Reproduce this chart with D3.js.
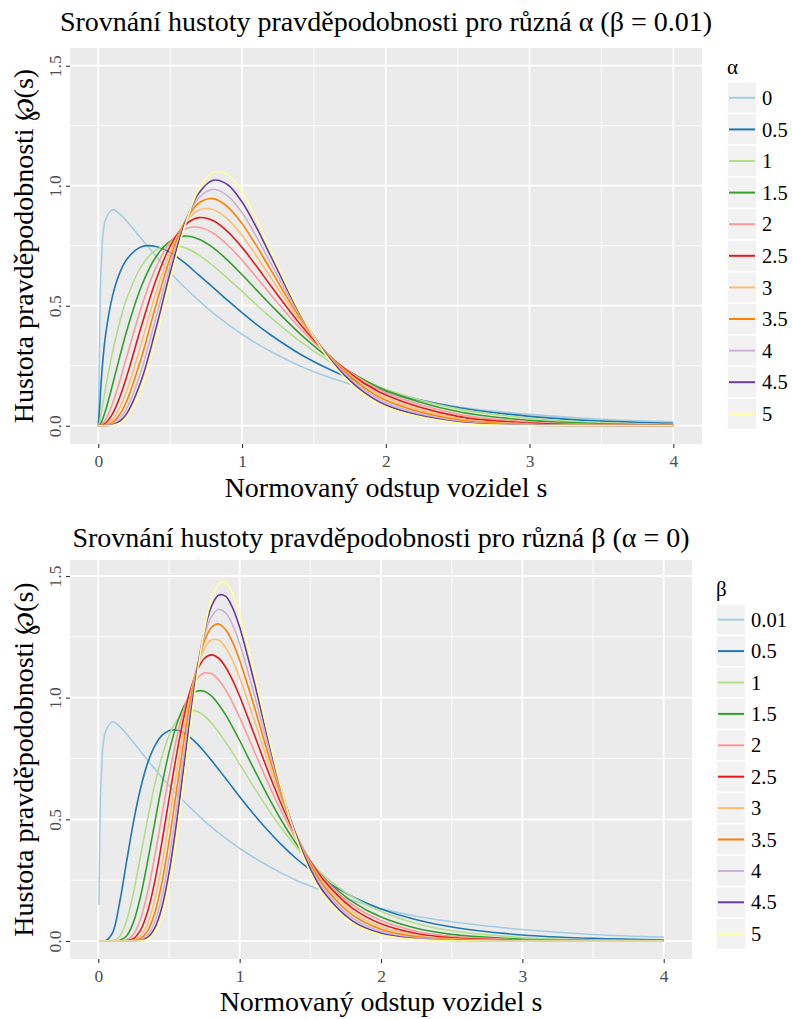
<!DOCTYPE html>
<html>
<head>
<meta charset="utf-8">
<script src="https://cdn.jsdelivr.net/npm/d3@7"></script>
<style>
  body { margin: 0; background: #ffffff; }
</style>
</head>
<body>
<script>
// s grid for the alpha panel (beta = 0.01)
const sAlpha = [0, 0.01, 0.02, 0.05, 0.1, 0.15, 0.2, 0.3, 0.4, 0.5, 0.6, 0.7, 0.8, 0.9, 1.0,
  1.1, 1.2, 1.4, 1.6, 1.8, 2.0, 2.5, 3.0, 3.5, 4.0];

const alphaLabels = ["0", "0.5", "1", "1.5", "2", "2.5", "3", "3.5", "4", "4.5", "5"];

const pA0 = [0, 0.402, 0.656, 0.858, 0.900, 0.882, 0.851, 0.779, 0.707, 0.639, 0.577, 0.521, 0.469, 0.423, 0.381, 0.343, 0.309, 0.250, 0.203, 0.165, 0.133, 0.079, 0.047, 0.027, 0.016];
const pA05 = [0, 0.080, 0.184, 0.375, 0.543, 0.638, 0.695, 0.746, 0.747, 0.722, 0.679, 0.627, 0.575, 0.522, 0.471, 0.422, 0.378, 0.300, 0.237, 0.185, 0.143, 0.076, 0.039, 0.019, 0.010];
const pA1 = [0, 0.0151, 0.0487, 0.155, 0.309, 0.434, 0.533, 0.665, 0.732, 0.753, 0.742, 0.711, 0.666, 0.614, 0.560, 0.504, 0.451, 0.353, 0.271, 0.204, 0.152, 0.070, 0.031, 0.0133, 0.0056];
const pA15 = [0, 0.0028, 0.0126, 0.0626, 0.1726, 0.289, 0.400, 0.581, 0.703, 0.769, 0.790, 0.777, 0.741, 0.689, 0.629, 0.566, 0.503, 0.385, 0.285, 0.207, 0.147, 0.0589, 0.0222, 0.008, 0.0028];
const pA2 = [0, 0.0005, 0.0032, 0.0247, 0.0938, 0.1877, 0.292, 0.495, 0.658, 0.765, 0.819, 0.827, 0.802, 0.753, 0.690, 0.619, 0.546, 0.408, 0.293, 0.204, 0.138, 0.0482, 0.0155, 0.0047, 0.0014];
const pA25 = [0, 0, 0.0008, 0.0095, 0.0501, 0.1199, 0.210, 0.415, 0.605, 0.748, 0.835, 0.867, 0.854, 0.809, 0.743, 0.665, 0.583, 0.426, 0.296, 0.197, 0.1276, 0.0388, 0.0106, 0.0027, 0.0007];
const pA3 = [0, 0, 0.0001, 0.0037, 0.0265, 0.0758, 0.1496, 0.344, 0.551, 0.725, 0.843, 0.899, 0.901, 0.861, 0.793, 0.708, 0.617, 0.441, 0.296, 0.189, 0.1168, 0.0309, 0.0072, 0.0016, 0.0003];
const pA35 = [0, 0, 0, 0.0014, 0.014, 0.0477, 0.106, 0.284, 0.500, 0.699, 0.847, 0.928, 0.946, 0.912, 0.842, 0.750, 0.649, 0.453, 0.294, 0.181, 0.1063, 0.0245, 0.0049, 0.0009, 0.0001];
const pA4 = [0, 0, 0, 0.0005, 0.0073, 0.0297, 0.0744, 0.232, 0.449, 0.668, 0.843, 0.950, 0.985, 0.958, 0.887, 0.788, 0.677, 0.462, 0.290, 0.171, 0.096, 0.0193, 0.0033, 0.0005, 0.0001];
const pA45 = [0, 0, 0, 0.0002, 0.0038, 0.0185, 0.0522, 0.190, 0.403, 0.638, 0.839, 0.970, 1.023, 1.004, 0.932, 0.826, 0.706, 0.471, 0.286, 0.162, 0.0866, 0.0151, 0.0022, 0.0003, 0];
const pA5 = [0, 0, 0, 0.0001, 0.002, 0.0115, 0.0364, 0.154, 0.359, 0.605, 0.829, 0.985, 1.056, 1.046, 0.973, 0.861, 0.730, 0.476, 0.280, 0.152, 0.0776, 0.0118, 0.0015, 0.0002, 0];

// s grid for the beta panel (alpha = 0)
const sBeta = [0.005, 0.01, 0.02, 0.05, 0.1, 0.15, 0.2, 0.25, 0.3, 0.35, 0.4, 0.45, 0.5, 0.55, 0.6,
  0.65, 0.7, 0.75, 0.8, 0.85, 0.9, 0.95, 1.0, 1.1, 1.2, 1.3, 1.4, 1.5, 1.6, 1.8, 2.0, 2.25, 2.5, 3.0, 3.5, 4.0];

const betaLabels = ["0.01", "0.5", "1", "1.5", "2", "2.5", "3", "3.5", "4", "4.5", "5"];

const pB001 = [0.149, 0.402, 0.656, 0.858, 0.900, 0.882, 0.851, 0.815, 0.779, 0.742, 0.707, 0.672, 0.639, 0.607, 0.577, 0.548, 0.521, 0.494, 0.469, 0.445, 0.423, 0.401, 0.381, 0.343, 0.309, 0.278, 0.250, 0.226, 0.203, 0.165, 0.133, 0.102, 0.079, 0.047, 0.027, 0.016];
const pB05 = [0, 0, 0, 0.0002, 0.032, 0.155, 0.326, 0.493, 0.630, 0.733, 0.802, 0.845, 0.864, 0.867, 0.857, 0.837, 0.810, 0.778, 0.743, 0.706, 0.669, 0.631, 0.593, 0.521, 0.454, 0.393, 0.339, 0.292, 0.250, 0.182, 0.132, 0.0875, 0.0577, 0.0248, 0.0106, 0.0045];
const pB1 = [0, 0, 0, 0, 0.0007, 0.0177, 0.0835, 0.2025, 0.352, 0.505, 0.643, 0.757, 0.843, 0.901, 0.935, 0.948, 0.943, 0.925, 0.896, 0.860, 0.818, 0.774, 0.727, 0.633, 0.543, 0.460, 0.386, 0.322, 0.267, 0.181, 0.121, 0.0719, 0.0423, 0.0144, 0.0048, 0.0016];
const pB15 = [0, 0, 0, 0, 0, 0.0019, 0.0204, 0.0792, 0.186, 0.330, 0.488, 0.641, 0.775, 0.882, 0.958, 1.006, 1.027, 1.026, 1.007, 0.973, 0.930, 0.879, 0.824, 0.708, 0.595, 0.491, 0.400, 0.322, 0.257, 0.161, 0.0982, 0.052, 0.0271, 0.0071, 0.0018, 0.0004];
const pB2 = [0, 0, 0, 0, 0, 0.0002, 0.0047, 0.0289, 0.0928, 0.203, 0.350, 0.515, 0.678, 0.823, 0.941, 1.026, 1.079, 1.101, 1.098, 1.074, 1.033, 0.980, 0.919, 0.785, 0.651, 0.527, 0.419, 0.328, 0.254, 0.148, 0.0842, 0.0403, 0.0189, 0.004, 0.0008, 0.0002];
const pB25 = [0, 0, 0, 0, 0, 0, 0.001, 0.0104, 0.0454, 0.123, 0.246, 0.406, 0.582, 0.754, 0.906, 1.027, 1.112, 1.161, 1.176, 1.163, 1.126, 1.072, 1.006, 0.854, 0.699, 0.555, 0.431, 0.328, 0.246, 0.134, 0.0706, 0.0306, 0.0129, 0.0022, 0.0003, 0];
const pB3 = [0, 0, 0, 0, 0, 0, 0.0001, 0.0037, 0.0218, 0.0728, 0.170, 0.314, 0.491, 0.679, 0.858, 1.010, 1.126, 1.202, 1.237, 1.237, 1.206, 1.153, 1.082, 0.914, 0.737, 0.575, 0.436, 0.323, 0.235, 0.120, 0.0585, 0.0229, 0.0087, 0.0012, 0.0001, 0];
const pB35 = [0, 0, 0, 0, 0, 0, 0, 0.0013, 0.0103, 0.0426, 0.116, 0.240, 0.409, 0.604, 0.802, 0.982, 1.128, 1.231, 1.288, 1.303, 1.280, 1.228, 1.154, 0.970, 0.772, 0.591, 0.438, 0.316, 0.223, 0.106, 0.0482, 0.0171, 0.0058, 0.0006, 0, 0];
const pB4 = [0, 0, 0, 0, 0, 0, 0, 0.0003, 0.0049, 0.0248, 0.0789, 0.183, 0.338, 0.534, 0.746, 0.949, 1.123, 1.252, 1.332, 1.362, 1.349, 1.299, 1.222, 1.020, 0.803, 0.602, 0.436, 0.306, 0.210, 0.0936, 0.0394, 0.0127, 0.0039, 0.0003, 0, 0];
const pB45 = [0, 0, 0, 0, 0, 0, 0, 0.0001, 0.0023, 0.0144, 0.0535, 0.139, 0.280, 0.471, 0.692, 0.915, 1.115, 1.271, 1.374, 1.421, 1.417, 1.369, 1.289, 1.071, 0.831, 0.612, 0.432, 0.296, 0.197, 0.0819, 0.032, 0.0093, 0.0026, 0.0001, 0, 0];
const pB5 = [0, 0, 0, 0, 0, 0, 0, 0, 0.0011, 0.0083, 0.0359, 0.104, 0.229, 0.411, 0.635, 0.873, 1.096, 1.277, 1.403, 1.467, 1.473, 1.429, 1.346, 1.112, 0.851, 0.615, 0.424, 0.282, 0.182, 0.0709, 0.0257, 0.0068, 0.0017, 0, 0, 0];

const xTicks = [0, 1, 2, 3, 4];
const xMinor = [0.5, 1.5, 2.5, 3.5];
const yTicks = [0, 0.5, 1.0, 1.5];
const yMinor = [0.25, 0.75, 1.25];

const colors = d3.schemePaired.slice(0, 11);
const serif = '"Liberation Serif"';

const width = 792;
const height = 1019;

const svg = d3
  .select("body")
  .append("svg")
  .attr("width", width)
  .attr("height", height)
  .style("background", "#ffffff")
  .style("font-family", serif);

function drawPanel(p) {
  const g = svg.append("g");

  const x = d3.scaleLinear().domain([0, 4]).range([p.x0, p.x4]);
  const y = d3.scaleLinear().domain([0, 1.5]).range([p.y0, p.y15]);

  g.append("rect")
    .attr("x", p.left)
    .attr("y", p.top)
    .attr("width", p.right - p.left)
    .attr("height", p.bottom - p.top)
    .attr("fill", "#EBEBEB");

  // minor grid
  g.selectAll(".xminor")
    .data(xMinor)
    .enter()
    .append("line")
    .attr("x1", (d) => x(d))
    .attr("x2", (d) => x(d))
    .attr("y1", p.top)
    .attr("y2", p.bottom)
    .attr("stroke", "#ffffff")
    .attr("stroke-width", 0.9);

  g.selectAll(".yminor")
    .data(yMinor)
    .enter()
    .append("line")
    .attr("x1", p.left)
    .attr("x2", p.right)
    .attr("y1", (d) => y(d))
    .attr("y2", (d) => y(d))
    .attr("stroke", "#ffffff")
    .attr("stroke-width", 0.9);

  // major grid
  g.selectAll(".xmajor")
    .data(xTicks)
    .enter()
    .append("line")
    .attr("x1", (d) => x(d))
    .attr("x2", (d) => x(d))
    .attr("y1", p.top)
    .attr("y2", p.bottom)
    .attr("stroke", "#ffffff")
    .attr("stroke-width", 1.8);

  g.selectAll(".ymajor")
    .data(yTicks)
    .enter()
    .append("line")
    .attr("x1", p.left)
    .attr("x2", p.right)
    .attr("y1", (d) => y(d))
    .attr("y2", (d) => y(d))
    .attr("stroke", "#ffffff")
    .attr("stroke-width", 1.8);

  // curves
  const line = d3
    .line()
    .x((d, i) => x(p.s[i]))
    .y((d) => y(d))
    .curve(d3.curveCatmullRom.alpha(0.5));

  g.selectAll(".curve")
    .data(p.series)
    .enter()
    .append("path")
    .attr("d", line)
    .attr("fill", "none")
    .attr("stroke", (d, i) => colors[i])
    .attr("stroke-width", 1.6)
    .attr("stroke-linejoin", "round");

  // axes
  const xAxis = d3.axisBottom(x).tickValues(xTicks).tickFormat(d3.format("d")).tickSize(4).tickPadding(7);
  const gx = g.append("g").attr("transform", `translate(0, ${p.bottom})`).call(xAxis);
  gx.select(".domain").remove();
  gx.selectAll(".tick line").attr("stroke", "#333333").attr("stroke-width", 1.1);
  gx.selectAll(".tick text")
    .attr("fill", "#4D4D4D")
    .style("font-size", "17.5px")
    .style("font-family", serif);

  const yAxis = d3.axisLeft(y).tickValues(yTicks).tickFormat(d3.format(".1f")).tickSize(4);
  const gy = g.append("g").attr("transform", `translate(${p.left}, 0)`).call(yAxis);
  gy.select(".domain").remove();
  gy.selectAll(".tick line").attr("stroke", "#333333").attr("stroke-width", 1.1);
  gy.selectAll(".tick text")
    .attr("x", null)
    .attr("dy", null)
    .attr("text-anchor", "middle")
    .attr("transform", "translate(-9, 0) rotate(-90)")
    .attr("fill", "#4D4D4D")
    .style("font-size", "17.5px")
    .style("font-family", serif);

  // titles
  svg.append("text")
    .attr("x", (p.left + p.right) / 2)
    .attr("y", p.titleY)
    .attr("text-anchor", "middle")
    .style("font-family", serif)
    .style("font-size", "28px")
    .attr("fill", "#000")
    .text(p.title);

  svg.append("text")
    .attr("x", (p.left + p.right) / 2)
    .attr("y", p.xTitleY)
    .attr("text-anchor", "middle")
    .style("font-family", serif)
    .style("font-size", "28px")
    .attr("fill", "#000")
    .text("Normovaný odstup vozidel s");

  svg.append("text")
    .attr("transform", `translate(33, ${(p.top + p.bottom) / 2}) rotate(-90)`)
    .attr("text-anchor", "middle")
    .style("font-family", serif)
    .style("font-size", "28px")
    .attr("fill", "#000")
    .text("Hustota pravděpodobnosti ℘(s)");

  // legend
  const lg = svg.append("g").attr("transform", `translate(${p.legX}, ${p.legTop})`);
  lg.append("text")
    .attr("x", 0)
    .attr("y", -8)
    .style("font-family", serif)
    .style("font-size", "21px")
    .attr("fill", "#000")
    .text(p.legTitle);

  const rows = lg.selectAll(".key")
    .data(p.labels)
    .enter()
    .append("g")
    .attr("transform", (d, i) => `translate(0, ${i * p.legStep})`);

  rows.append("rect")
    .attr("x", 0)
    .attr("y", 0)
    .attr("width", 30)
    .attr("height", p.legStep)
    .attr("fill", "#F2F2F2")
    .attr("stroke", "#ffffff")
    .attr("stroke-width", 1.5);

  rows.append("line")
    .attr("x1", 2)
    .attr("x2", 28)
    .attr("y1", p.legStep / 2)
    .attr("y2", p.legStep / 2)
    .attr("stroke", (d, i) => colors[i])
    .attr("stroke-width", 2);

  rows.append("text")
    .attr("x", 35)
    .attr("y", p.legStep / 2)
    .attr("dy", "0.35em")
    .style("font-family", serif)
    .style("font-size", "20.5px")
    .attr("fill", "#000")
    .text((d) => d);
}

drawPanel({
  left: 70, right: 702, top: 48, bottom: 444,
  x0: 98.3, x4: 673.3, y0: 425.7, y15: 65.7,
  s: sAlpha,
  series: [pA0, pA05, pA1, pA15, pA2, pA25, pA3, pA35, pA4, pA45, pA5],
  labels: alphaLabels,
  title: "Srovnání hustoty pravděpodobnosti pro různá α (β = 0.01)",
  titleY: 31,
  xTitleY: 497,
  legTitle: "α",
  legX: 727, legTop: 82, legStep: 31.6
});

drawPanel({
  left: 70, right: 692, top: 560, bottom: 959,
  x0: 98.3, x4: 663.7, y0: 941, y15: 576,
  s: sBeta,
  series: [pB001, pB05, pB1, pB15, pB2, pB25, pB3, pB35, pB4, pB45, pB5],
  labels: betaLabels,
  title: "Srovnání hustoty pravděpodobnosti pro různá β (α = 0)",
  titleY: 547,
  xTitleY: 1011,
  legTitle: "β",
  legX: 716, legTop: 604, legStep: 31.4
});
</script>
</body>
</html>
